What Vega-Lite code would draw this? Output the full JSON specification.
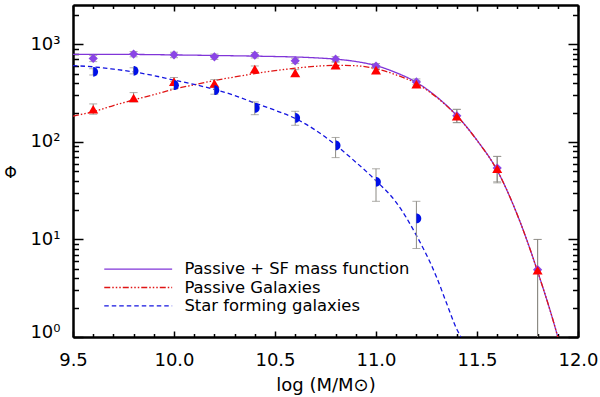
{
  "$schema": "https://vega.github.io/schema/vega-lite/v6.json",
  "width": 505,
  "height": 332,
  "autosize": "none",
  "padding": {"left": 73, "top": 5, "right": 22, "bottom": 60},
  "background": "white",
  "config": {
    "view": {"stroke": null},
    "font": "DejaVu Sans",
    "axis": {
      "grid": false,
      "domainColor": "black",
      "domainWidth": 2,
      "tickColor": "black",
      "tickWidth": 1.5,
      "labelFont": "DejaVu Sans",
      "labelFontSize": 18,
      "labelColor": "black",
      "labelFlush": false,
      "labelOverlap": false,
      "titleFont": "DejaVu Sans",
      "titleFontWeight": "normal",
      "titleColor": "black",
      "titleFontSize": 18
    },
    "legend": {
      "orient": "none",
      "legendX": 57,
      "legendY": 256,
      "padding": 0,
      "labelFont": "DejaVu Sans",
      "labelFontSize": 16.4,
      "labelColor": "black",
      "labelLimit": 0,
      "symbolType": "M-6,0H6",
      "symbolSize": 128,
      "symbolStrokeWidth": 1.3,
      "labelOffset": 38,
      "rowPadding": 1.3
    }
  },
  "datasets": {
    "curves": [
      {"m": 9.5, "phi": 789, "series": "Passive + SF mass function"},
      {"m": 9.6, "phi": 790, "series": "Passive + SF mass function"},
      {"m": 9.7, "phi": 790, "series": "Passive + SF mass function"},
      {"m": 9.8, "phi": 788, "series": "Passive + SF mass function"},
      {"m": 9.9, "phi": 784, "series": "Passive + SF mass function"},
      {"m": 10.0, "phi": 779, "series": "Passive + SF mass function"},
      {"m": 10.1, "phi": 774, "series": "Passive + SF mass function"},
      {"m": 10.2, "phi": 769, "series": "Passive + SF mass function"},
      {"m": 10.3, "phi": 763, "series": "Passive + SF mass function"},
      {"m": 10.4, "phi": 757, "series": "Passive + SF mass function"},
      {"m": 10.5, "phi": 750, "series": "Passive + SF mass function"},
      {"m": 10.6, "phi": 742, "series": "Passive + SF mass function"},
      {"m": 10.7, "phi": 727, "series": "Passive + SF mass function"},
      {"m": 10.8, "phi": 705, "series": "Passive + SF mass function"},
      {"m": 10.9, "phi": 667, "series": "Passive + SF mass function"},
      {"m": 11.0, "phi": 605, "series": "Passive + SF mass function"},
      {"m": 11.1, "phi": 512, "series": "Passive + SF mass function"},
      {"m": 11.2, "phi": 408, "series": "Passive + SF mass function"},
      {"m": 11.3, "phi": 290, "series": "Passive + SF mass function"},
      {"m": 11.4, "phi": 186, "series": "Passive + SF mass function"},
      {"m": 11.5, "phi": 104, "series": "Passive + SF mass function"},
      {"m": 11.6, "phi": 51, "series": "Passive + SF mass function"},
      {"m": 11.7, "phi": 17.8, "series": "Passive + SF mass function"},
      {"m": 11.8, "phi": 4.7, "series": "Passive + SF mass function"},
      {"m": 11.9, "phi": 1.0, "series": "Passive + SF mass function"},
      {"m": 11.95, "phi": 0.4, "series": "Passive + SF mass function"},
      {"m": 9.5, "phi": 184, "series": "Passive Galaxies"},
      {"m": 9.6, "phi": 204, "series": "Passive Galaxies"},
      {"m": 9.7, "phi": 236, "series": "Passive Galaxies"},
      {"m": 9.8, "phi": 269, "series": "Passive Galaxies"},
      {"m": 9.9, "phi": 305, "series": "Passive Galaxies"},
      {"m": 10.0, "phi": 347, "series": "Passive Galaxies"},
      {"m": 10.1, "phi": 385, "series": "Passive Galaxies"},
      {"m": 10.2, "phi": 425, "series": "Passive Galaxies"},
      {"m": 10.3, "phi": 463, "series": "Passive Galaxies"},
      {"m": 10.4, "phi": 501, "series": "Passive Galaxies"},
      {"m": 10.5, "phi": 537, "series": "Passive Galaxies"},
      {"m": 10.6, "phi": 569, "series": "Passive Galaxies"},
      {"m": 10.7, "phi": 595, "series": "Passive Galaxies"},
      {"m": 10.8, "phi": 610, "series": "Passive Galaxies"},
      {"m": 10.9, "phi": 603, "series": "Passive Galaxies"},
      {"m": 11.0, "phi": 562, "series": "Passive Galaxies"},
      {"m": 11.1, "phi": 486, "series": "Passive Galaxies"},
      {"m": 11.2, "phi": 397, "series": "Passive Galaxies"},
      {"m": 11.3, "phi": 286, "series": "Passive Galaxies"},
      {"m": 11.4, "phi": 185, "series": "Passive Galaxies"},
      {"m": 11.5, "phi": 103.5, "series": "Passive Galaxies"},
      {"m": 11.6, "phi": 51, "series": "Passive Galaxies"},
      {"m": 11.7, "phi": 17.8, "series": "Passive Galaxies"},
      {"m": 11.8, "phi": 4.7, "series": "Passive Galaxies"},
      {"m": 11.9, "phi": 1.0, "series": "Passive Galaxies"},
      {"m": 11.95, "phi": 0.4, "series": "Passive Galaxies"},
      {"m": 9.5, "phi": 605, "series": "Star forming galaxies"},
      {"m": 9.6, "phi": 588, "series": "Star forming galaxies"},
      {"m": 9.7, "phi": 557, "series": "Star forming galaxies"},
      {"m": 9.8, "phi": 522, "series": "Star forming galaxies"},
      {"m": 9.9, "phi": 478, "series": "Star forming galaxies"},
      {"m": 10.0, "phi": 430, "series": "Star forming galaxies"},
      {"m": 10.1, "phi": 388, "series": "Star forming galaxies"},
      {"m": 10.2, "phi": 345, "series": "Star forming galaxies"},
      {"m": 10.3, "phi": 299, "series": "Star forming galaxies"},
      {"m": 10.4, "phi": 250, "series": "Star forming galaxies"},
      {"m": 10.5, "phi": 211, "series": "Star forming galaxies"},
      {"m": 10.6, "phi": 174, "series": "Star forming galaxies"},
      {"m": 10.7, "phi": 132, "series": "Star forming galaxies"},
      {"m": 10.8, "phi": 93, "series": "Star forming galaxies"},
      {"m": 10.9, "phi": 62, "series": "Star forming galaxies"},
      {"m": 11.0, "phi": 40, "series": "Star forming galaxies"},
      {"m": 11.1, "phi": 24, "series": "Star forming galaxies"},
      {"m": 11.2, "phi": 11, "series": "Star forming galaxies"},
      {"m": 11.3, "phi": 4.1, "series": "Star forming galaxies"},
      {"m": 11.35, "phi": 2.2, "series": "Star forming galaxies"},
      {"m": 11.4, "phi": 1.2, "series": "Star forming galaxies"},
      {"m": 11.42, "phi": 1.0, "series": "Star forming galaxies"},
      {"m": 11.46, "phi": 0.6, "series": "Star forming galaxies"}
    ],
    "pts": [
      {"m": 9.6, "phi": 716, "lo": 665, "hi": 770, "s": "T"},
      {"m": 9.8, "phi": 794, "lo": 745, "hi": 845, "s": "T"},
      {"m": 10.0, "phi": 780, "lo": 730, "hi": 830, "s": "T"},
      {"m": 10.2, "phi": 745, "lo": 700, "hi": 795, "s": "T"},
      {"m": 10.4, "phi": 775, "lo": 725, "hi": 825, "s": "T"},
      {"m": 10.6, "phi": 677, "lo": 635, "hi": 720, "s": "T"},
      {"m": 10.8, "phi": 705, "lo": 665, "hi": 748, "s": "T"},
      {"m": 11.0, "phi": 598, "lo": 562, "hi": 636, "s": "T"},
      {"m": 11.2, "phi": 412, "lo": 385, "hi": 442, "s": "T"},
      {"m": 11.4, "phi": 185, "lo": 158, "hi": 215, "s": "T"},
      {"m": 11.6, "phi": 54, "lo": 39, "hi": 71, "s": "T"},
      {"m": 11.8, "phi": 4.9, "lo": 0.3, "hi": 10, "s": "T"},
      {"m": 9.6, "phi": 216, "lo": 192, "hi": 245, "s": "P"},
      {"m": 9.8, "phi": 282, "lo": 257, "hi": 320, "s": "P"},
      {"m": 10.0, "phi": 415, "lo": 378, "hi": 457, "s": "P"},
      {"m": 10.2, "phi": 397, "lo": 362, "hi": 435, "s": "P"},
      {"m": 10.4, "phi": 557, "lo": 515, "hi": 600, "s": "P"},
      {"m": 10.6, "phi": 510, "lo": 472, "hi": 550, "s": "P"},
      {"m": 10.8, "phi": 612, "lo": 570, "hi": 655, "s": "P"},
      {"m": 11.0, "phi": 544, "lo": 508, "hi": 582, "s": "P"},
      {"m": 11.2, "phi": 391, "lo": 362, "hi": 422, "s": "P"},
      {"m": 11.4, "phi": 183, "lo": 157, "hi": 216, "s": "P"},
      {"m": 11.6, "phi": 53, "lo": 38, "hi": 71, "s": "P"},
      {"m": 11.8, "phi": 4.83, "lo": 0.3, "hi": 10, "s": "P"},
      {"m": 9.6, "phi": 522, "lo": 485, "hi": 562, "s": "S"},
      {"m": 9.8, "phi": 535, "lo": 498, "hi": 575, "s": "S"},
      {"m": 10.0, "phi": 381, "lo": 348, "hi": 418, "s": "S"},
      {"m": 10.2, "phi": 339, "lo": 308, "hi": 372, "s": "S"},
      {"m": 10.4, "phi": 223, "lo": 190, "hi": 257, "s": "S"},
      {"m": 10.6, "phi": 176, "lo": 148, "hi": 206, "s": "S"},
      {"m": 10.8, "phi": 92, "lo": 69, "hi": 111, "s": "S"},
      {"m": 11.0, "phi": 39, "lo": 24.6, "hi": 53, "s": "S"},
      {"m": 11.2, "phi": 16.4, "lo": 8.07, "hi": 24.6, "s": "S"}
    ]
  },
  "layer": [
    {
      "data": {"name": "curves"},
      "mark": {"type": "line", "clip": true, "strokeWidth": 1.3, "interpolate": "monotone"},
      "encoding": {
        "x": {"field": "m", "type": "quantitative",
          "scale": {"domain": [9.5, 12.0], "nice": false, "zero": false},
          "axis": {"orient": "bottom", "values": [9.5, 10.0, 10.5, 11.0, 11.5, 12.0], "format": ".1f",
            "tickSize": -6, "labelPadding": 20, "title": "log (M/M⊙)", "titleY": 53, "titleBaseline": "alphabetic"}},
        "y": {"field": "phi", "type": "quantitative",
          "scale": {"type": "log", "domain": [1, 2530], "nice": false},
          "axis": {"orient": "left", "values": [1, 10, 100, 1000], "tickSize": -10, "labelPadding": 23,
            "labelExpr": "datum.value == 1 ? '10⁰' : datum.value == 10 ? '10¹' : datum.value == 100 ? '10²' : '10³'",
            "labelBaseline": {"condition": {"test": "datum.value == 1", "value": "alphabetic"}, "value": "middle"},
            "title": "Φ", "titleAngle": 0, "titleX": -63, "titleY": 167, "titleAlign": "center", "titleBaseline": "middle", "titleFontSize": 16}},
        "color": {"field": "series", "type": "nominal",
          "scale": {"domain": ["Passive + SF mass function", "Passive Galaxies", "Star forming galaxies"], "range": ["#8035d8", "#e01515", "#1414e0"]},
          "legend": {"title": null}},
        "strokeDash": {"field": "series", "type": "nominal",
          "scale": {"domain": ["Passive + SF mass function", "Passive Galaxies", "Star forming galaxies"], "range": [[1, 0], [6, 2, 1.5, 2, 1.5, 2, 1.5, 2], [4.5, 3]]},
          "legend": {"title": null}}
      }
    },
    {
      "data": {"name": "pts"},
      "mark": {"type": "rule", "clip": true, "color": "#8c8a84", "strokeWidth": 1},
      "encoding": {
        "x": {"field": "m", "type": "quantitative",
          "axis": {"orient": "bottom", "values": [9.6, 9.7, 9.8, 9.9, 10.1, 10.2, 10.3, 10.4, 10.6, 10.7, 10.8, 10.9, 11.1, 11.2, 11.3, 11.4, 11.6, 11.7, 11.8, 11.9], "tickSize": -3.5, "labels": false, "title": null}},
        "y": {"field": "lo", "type": "quantitative",
          "axis": {"orient": "left", "values": [2, 3, 4, 5, 6, 7, 8, 9, 20, 30, 40, 50, 60, 70, 80, 90, 200, 300, 400, 500, 600, 700, 800, 900, 2000], "tickSize": -5.5, "labels": false, "title": null}},
        "y2": {"field": "hi"}
      }
    },
    {
      "data": {"name": "pts"},
      "mark": {"type": "tick", "clip": true, "orient": "horizontal", "size": 8, "thickness": 1, "color": "#8c8a84"},
      "encoding": {
        "x": {"field": "m", "type": "quantitative",
          "axis": {"orient": "top", "values": [9.5, 10.0, 10.5, 11.0, 11.5, 12.0], "tickSize": -6, "labels": false, "title": null}},
        "y": {"field": "lo", "type": "quantitative",
          "axis": {"orient": "right", "values": [1, 10, 100, 1000], "tickSize": -10, "labels": false, "title": null}}
      }
    },
    {
      "data": {"name": "pts"},
      "mark": {"type": "tick", "clip": true, "orient": "horizontal", "size": 8, "thickness": 1, "color": "#8c8a84"},
      "encoding": {
        "x": {"field": "m", "type": "quantitative",
          "axis": {"orient": "top", "values": [9.6, 9.7, 9.8, 9.9, 10.1, 10.2, 10.3, 10.4, 10.6, 10.7, 10.8, 10.9, 11.1, 11.2, 11.3, 11.4, 11.6, 11.7, 11.8, 11.9], "tickSize": -3.5, "labels": false, "title": null}},
        "y": {"field": "hi", "type": "quantitative",
          "axis": {"orient": "right", "values": [2, 3, 4, 5, 6, 7, 8, 9, 20, 30, 40, 50, 60, 70, 80, 90, 200, 300, 400, 500, 600, 700, 800, 900, 2000], "tickSize": -5.5, "labels": false, "title": null}}
      }
    },
    {
      "data": {"name": "pts"},
      "transform": [{"filter": "datum.s == 'T'"}],
      "mark": {"type": "point", "clip": true, "shape": "diamond", "size": 85, "filled": true, "color": "#8a45e5", "opacity": 1},
      "encoding": {
        "x": {"field": "m", "type": "quantitative", "axis": null},
        "y": {"field": "phi", "type": "quantitative", "axis": null}
      }
    },
    {
      "data": {"name": "pts"},
      "transform": [{"filter": "datum.s == 'P'"}],
      "mark": {"type": "point", "clip": true, "shape": "triangle-up", "size": 100, "filled": true, "color": "#ff0000", "opacity": 1},
      "encoding": {
        "x": {"field": "m", "type": "quantitative", "axis": null},
        "y": {"field": "phi", "type": "quantitative", "axis": null}
      }
    },
    {
      "data": {"name": "pts"},
      "transform": [{"filter": "datum.s == 'S'"}],
      "mark": {"type": "point", "clip": true, "shape": "M0,-1A1,1 0 0,1 0,1Z", "size": 95, "filled": true, "color": "#0010e8", "opacity": 1},
      "encoding": {
        "x": {"field": "m", "type": "quantitative", "axis": null},
        "y": {"field": "phi", "type": "quantitative", "axis": null}
      }
    }
  ],
  "resolve": {"axis": {"x": "independent", "y": "independent"}}
}
